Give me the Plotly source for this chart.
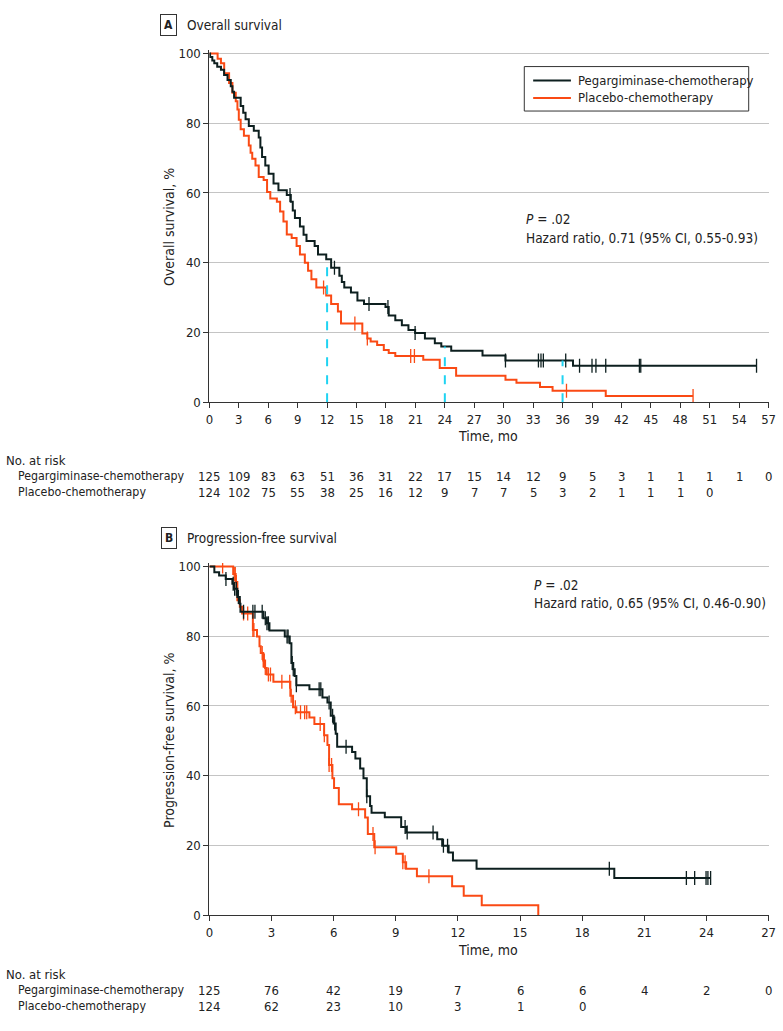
import plotly.graph_objects as go

# ---------------- DATA ----------------
# Panel A: Overall survival (time in months, survival %)
os_peg_t = [0, 0.07, 0.3, 0.5, 0.8, 1.18, 1.5, 1.85, 2.18, 2.35, 2.52, 3.19, 3.45, 3.69, 4.02, 4.53, 5.03, 5.2, 5.37,
            5.7, 6.04, 6.54, 7.04, 7.89, 8.3, 8.5, 8.72, 9.23, 9.6, 9.9, 10.73, 11.07, 11.91, 12.41, 13.25, 13.5,
            13.75, 14.43, 15.09, 15.76, 17.95, 18.28, 18.95, 19.62, 20.29, 20.97, 21.97, 22.98, 23.64, 24.65,
            27.84, 30.18, 37.06]
os_peg_s = [100, 99, 98, 97.2, 96.2, 95.3, 93.8, 92.4, 90.6, 89, 87.3, 84.9, 83, 81.1, 79.2, 77.8, 75.9, 73, 70.3,
            67.9, 65.5, 62.7, 60.8, 59.4, 57.5, 55, 52.8, 50.4, 48, 46.2, 44.8, 42.4, 41.0, 38.6, 36.3, 34.5,
            32.9, 31.5, 29.2, 28.2, 27.3, 24.9, 23.5, 22.1, 20.7, 19.9, 18.3, 16.9, 16.0, 14.8,
            13.4, 12.0, 10.5]
os_peg_cens = [8.22, 12.75, 16.27, 18.2, 20.97, 30.18, 33.54, 33.8, 34.04, 36.32, 37.73, 39.0, 39.4, 40.4,
               43.83, 43.97, 55.77]

os_pla_t = [0, 0.84, 1.18, 1.51, 2.01, 2.35, 2.69, 2.86, 3.0, 3.19, 3.52, 4.02, 4.2, 4.37, 4.7, 5.03, 5.53, 5.88,
            6.21, 6.88, 7.21, 7.55, 7.89, 8.39, 8.89, 9.23, 9.73, 10.06, 10.4, 10.9, 11.91, 12.41, 13.1, 13.42,
            15.59, 16.1, 16.44, 17.1, 17.78, 18.28, 18.95, 21.8, 23.48, 25.15, 30.18, 31.3, 33.7, 34.98, 40.4]
os_pla_s = [100, 98.5, 97.2, 94.3, 91.5, 88.7, 86.3, 83.9, 81, 78.3, 76.4, 73.6, 71.5, 69.8, 67.9, 64.6, 63.7,
            60.3, 58.4, 57.5, 54.7, 51.8, 48.1, 47.1, 44.8, 42.4, 40.0, 37.7, 35.3, 32.9, 30.6, 28.2, 26, 22.6,
            19.7, 18.3, 17.4, 16.4, 15.0, 14.1, 13.3, 12.2, 9.8, 7.6, 6.5, 5.6, 4.4, 3.3, 1.8]
os_pla_cens = [11.64, 14.83, 16.1, 20.52, 20.9, 36.4, 49.3]

os_marks = [12, 24, 36]

# Panel B: Progression-free survival
pfs_peg_t = [0, 0.24, 0.47, 0.79, 1.11, 1.19, 1.35, 1.47, 1.5, 2.61, 2.77, 2.9, 3.64, 3.88, 3.96, 4.05, 4.12, 4.2,
             4.83, 5.46, 5.7, 5.86, 6.0, 6.1, 6.17, 6.89, 7.05, 7.28, 7.44, 7.6, 7.76, 7.83, 8.47, 9.26, 9.5,
             11.0, 11.24, 11.55, 11.76, 12.9, 19.55]
pfs_peg_s = [100, 98.3, 97.4, 96.4, 95.0, 93.6, 91.2, 89.3, 87.0, 85.1, 83.7, 81.6, 79.9, 78.0, 72.3, 70.5, 68.6,
             65.9, 64.8, 62.4, 61.0, 57.2, 55, 52.0, 48.3, 46.8, 44.9, 42.1, 39.3, 34.1, 31.3, 29.4, 28.1, 25.3,
             23.7, 21.8, 19.9, 18.0, 15.7, 13.3, 10.7]
pfs_peg_cens = [0.8, 1.15, 1.22, 1.3, 1.4, 1.65, 2.1, 2.2, 2.55, 2.7, 2.78, 2.85, 3.75, 3.8, 4.0, 4.05, 4.2, 5.3,
                5.38, 5.78, 5.95, 6.05, 6.6, 7.6, 9.45, 9.55, 10.8, 11.3, 11.5, 19.31, 23.03, 23.43, 23.98,
                24.07, 24.2]

pfs_pla_t = [0, 1.15, 1.27, 1.35, 1.47, 1.58, 2.1, 2.3, 2.42, 2.48, 2.6, 2.69, 2.77, 3.09, 3.91, 4.04, 4.2, 4.83,
             5.07, 5.54, 5.7, 5.78, 5.94, 6.02, 6.25, 6.89, 7.52, 7.65, 7.96, 9.02, 9.34, 9.5, 10.02, 11.72,
             12.28, 13.15, 15.88]
pfs_pla_s = [100, 97.8, 95.5, 90.3, 88.4, 86.5, 81.8, 79.9, 77.1, 75.2, 73, 70.9, 69.0, 66.9, 62.9, 59.6, 58.2,
             56.7, 54.8, 51.6, 48.8, 43.1, 39.3, 36.5, 31.8, 30.4, 28.0, 23.3, 19.5, 17.6, 15.2, 13.3, 11.2, 8.3,
             5.6, 2.9, 0]
pfs_pla_cens = [0.64, 1.2, 1.25, 1.3, 1.65, 1.85, 2.1, 2.15, 2.55, 2.6, 2.62, 2.65, 2.7, 2.85, 2.95, 3.5, 3.88,
                3.95, 4.15, 4.4, 4.6, 4.7, 5.35, 5.55, 5.78, 5.9, 7.2, 7.9, 8.0, 9.34, 9.45, 10.6]

# Number at risk
os_risk_times = list(range(0, 58, 3))
os_risk_peg = [125, 109, 83, 63, 51, 36, 31, 22, 17, 15, 14, 12, 9, 5, 3, 1, 1, 1, 1, 0]
os_risk_pla = [124, 102, 75, 55, 38, 25, 16, 12, 9, 7, 7, 5, 3, 2, 1, 1, 1, 0]
pfs_risk_times = list(range(0, 28, 3))
pfs_risk_peg = [125, 76, 42, 19, 7, 6, 6, 4, 2, 0]
pfs_risk_pla = [124, 62, 23, 10, 3, 1, 0]

group_names = ["Pegargiminase-chemotherapy", "Placebo-chemotherapy"]

# ---------------- STYLE ----------------
W, H = 783, 1031
FONT = "DejaVu Sans Condensed, Liberation Sans Narrow, Arial Narrow, sans-serif"
C_PEG = "#0d1f1f"
C_PLA = "#fa4a14"
C_CYAN = "#1fd3f2"


def px_x(p):
    return p / W


def px_y(p):
    return 1 - p / H


def surv_at(ts, ss, t):
    v = ss[0]
    for ti, si in zip(ts, ss):
        if ti <= t:
            v = si
    return v


fig = go.Figure()

A_dom_y = [px_y(403), px_y(403 - 3.53 * 101)]
B_dom_y = [px_y(922), px_y(922 - 3.53 * 101)]
X_dom = [px_x(208.3), px_x(775.5)]


def add_curve(ts, ss, cens, color, xa, ya, name):
    end = max(cens + ts)
    xs = list(ts) + [end]
    ys = list(ss) + [ss[-1]]
    fig.add_trace(go.Scatter(x=xs, y=ys, mode="lines", line=dict(color=color, width=2, shape="hv"),
                             xaxis=xa, yaxis=ya, name=name, showlegend=False, hoverinfo="skip"))
    cy = [surv_at(ts, ss, c) for c in cens]
    fig.add_trace(go.Scatter(x=cens, y=cy, mode="markers",
                             marker=dict(symbol="line-ns", size=10, line=dict(color=color, width=1.3)),
                             xaxis=xa, yaxis=ya, showlegend=False, hoverinfo="skip"))


# cyan dashed markers at 12, 24, 36 months
for m in os_marks:
    fig.add_shape(type="line", xref="x", yref="y", x0=m, x1=m, y0=0, y1=surv_at(os_peg_t, os_peg_s, m),
                  line=dict(color=C_CYAN, width=2, dash="dash"), layer="above")

add_curve(os_pla_t, os_pla_s, os_pla_cens, C_PLA, "x", "y", group_names[1])
add_curve(os_peg_t, os_peg_s, os_peg_cens, C_PEG, "x", "y", group_names[0])
add_curve(pfs_pla_t, pfs_pla_s, pfs_pla_cens, C_PLA, "x2", "y2", group_names[1])
add_curve(pfs_peg_t, pfs_peg_s, pfs_peg_cens, C_PEG, "x2", "y2", group_names[0])

axis_common = dict(showline=True, linecolor="#333", linewidth=1, ticks="outside", ticklen=5,
                   tickcolor="#333", tickfont=dict(family=FONT, size=13, color="#222"), zeroline=False)

fig.update_layout(
    width=W, height=H, margin=dict(l=0, r=0, t=0, b=0),
    paper_bgcolor="white", plot_bgcolor="white",
    font=dict(family=FONT, size=13, color="#222"),
    xaxis=dict(domain=X_dom, range=[0, 57], tickvals=os_risk_times, showgrid=False, anchor="y", **axis_common),
    yaxis=dict(domain=A_dom_y, range=[0, 101], tickvals=[0, 20, 40, 60, 80, 100], showgrid=True,
               gridcolor="#c4c4c4", gridwidth=1.2, anchor="x", **axis_common),
    xaxis2=dict(domain=X_dom, range=[0, 27], tickvals=pfs_risk_times, showgrid=False, anchor="y2", **axis_common),
    yaxis2=dict(domain=B_dom_y, range=[0, 101], tickvals=[0, 20, 40, 60, 80, 100], showgrid=True,
                gridcolor="#c4c4c4", gridwidth=1.2, anchor="x2", **axis_common),
    showlegend=False,
)

ann = []


def text(x, y, s, size=13, xanchor="left", xref="paper", **kw):
    ann.append(dict(x=x, y=y, xref=xref, yref="paper", text=s, showarrow=False, xanchor=xanchor,
                    yanchor="middle", font=dict(family=FONT, size=size, color="#222"), **kw))


# custom legend box (panel A)
fig.add_shape(type="rect", xref="paper", yref="paper", x0=px_x(527.7), x1=px_x(755.3), y0=px_y(108.3),
              y1=px_y(63.3), line=dict(color="#333", width=1), fillcolor="white", layer="above")
for name, color, yy in [(group_names[0], C_PEG, 77.3), (group_names[1], C_PLA, 95)]:
    fig.add_shape(type="line", xref="paper", yref="paper", x0=px_x(536.7), x1=px_x(575), y0=px_y(yy),
                  y1=px_y(yy), line=dict(color=color, width=2), layer="above")
    text(px_x(580), px_y(yy), name, size=13)

# panel headers
for lab, title, yc in [("A", "Overall survival", 21), ("B", "Progression-free survival", 540)]:
    ann.append(dict(x=px_x(167), y=px_y(yc), xref="paper", yref="paper", text="<b>%s</b>" % lab,
                    showarrow=False, xanchor="center", yanchor="middle", bordercolor="#333", borderwidth=1,
                    borderpad=3, font=dict(family=FONT, size=12, color="#222")))
    text(px_x(184), px_y(yc), title, size=13.5)

# axis titles
text(px_x(168), px_y(226), "Overall survival, %", size=14, xanchor="center", textangle=-90)
text(px_x(168), px_y(745), "Progression-free survival, %", size=14, xanchor="center", textangle=-90)
text(px_x(491), px_y(437), "Time, mo", size=14, xanchor="center")
text(px_x(491), px_y(957), "Time, mo", size=14, xanchor="center")

# stats
text(px_x(527), px_y(218), "<i>P</i> = .02", size=13.5)
text(px_x(527), px_y(236.5), "Hazard ratio, 0.71 (95% CI, 0.55-0.93)", size=13.5)
text(px_x(536), px_y(588), "<i>P</i> = .02", size=13.5)
text(px_x(536), px_y(606), "Hazard ratio, 0.65 (95% CI, 0.46-0.90)", size=13.5)

# risk tables
for (xa, times, peg, pla, y0) in [("x", os_risk_times, os_risk_peg, os_risk_pla, 462),
                                   ("x2", pfs_risk_times, pfs_risk_peg, pfs_risk_pla, 982)]:
    text(px_x(0), px_y(y0), "No. at risk", size=13)
    text(px_x(12), px_y(y0 + 16), group_names[0], size=12.3)
    text(px_x(12), px_y(y0 + 32), group_names[1], size=12.3)
    for t, v in zip(times, peg):
        text(t, px_y(y0 + 16), str(v), size=13, xanchor="center", xref=xa)
    for t, v in zip(times, pla):
        text(t, px_y(y0 + 32), str(v), size=13, xanchor="center", xref=xa)

fig.update_layout(annotations=ann)
fig.write_html("out.html", config={"displayModeBar": False},
               post_script="document.body.style.margin='0';document.body.style.overflow='hidden';")
